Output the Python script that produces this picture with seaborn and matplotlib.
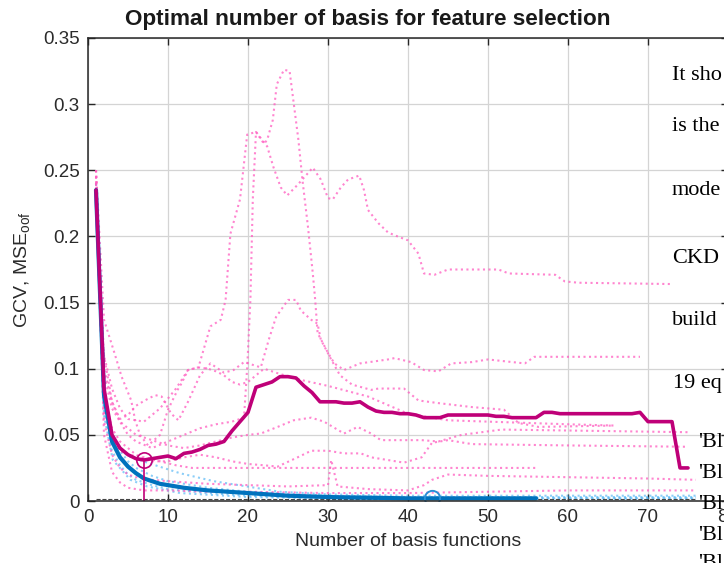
import matplotlib
matplotlib.use("Agg")
import matplotlib.pyplot as plt
import numpy as np
import pandas as pd
import seaborn as sns

# ---------------- data ----------------
# mean out-of-fold MSE (thick magenta)
mse_x = list(range(1, 76))
mse_y = [0.235, 0.085, 0.050, 0.040, 0.035, 0.032, 0.031, 0.032, 0.033, 0.034,
         0.032, 0.036, 0.037, 0.039, 0.042, 0.043, 0.045, 0.053, 0.060, 0.067,
         0.086, 0.088, 0.090, 0.094, 0.094, 0.093, 0.087, 0.082, 0.075, 0.075,
         0.075, 0.074, 0.074, 0.075, 0.071, 0.068, 0.067, 0.067, 0.066, 0.066,
         0.065, 0.063, 0.063, 0.063, 0.065, 0.065, 0.065, 0.065, 0.065, 0.065,
         0.064, 0.064, 0.063, 0.063, 0.063, 0.063, 0.067, 0.067, 0.066, 0.066,
         0.066, 0.066, 0.066, 0.066, 0.066, 0.066, 0.066, 0.066, 0.067, 0.060,
         0.060, 0.060, 0.060, 0.025, 0.025]

# mean GCV (thick blue)
gcv_x = [1, 2, 3, 4, 5, 6, 7, 8, 9, 10, 12, 15, 20, 25, 30, 35, 40, 45, 50, 56]
gcv_y = [0.235, 0.080, 0.045, 0.033, 0.026, 0.021, 0.017, 0.015, 0.013, 0.012,
         0.010, 0.008, 0.006, 0.004, 0.003, 0.0025, 0.002, 0.002, 0.002, 0.002]

# per-fold out-of-fold MSE curves (pink dotted)
fold1_x = [1, 1.5, 2, 3, 4, 5, 7, 9, 11, 12.5, 13.8, 15.3, 16.6, 17.2, 17.8, 19, 19.9,
           21, 22.4, 23.2, 24.1, 24.9, 26.2, 28.1, 29.1, 30, 30.6, 31.6, 32.5, 33.9,
           34.5, 35, 36.3, 37.5, 38.7, 40, 41.3, 42, 43.3, 45, 51.3, 52.6, 58.4,
           59.6, 61.3, 73]
fold1_y = [0.25, 0.16, 0.11, 0.085, 0.07, 0.062, 0.06, 0.07, 0.085, 0.099, 0.101,
           0.132, 0.137, 0.152, 0.202, 0.228, 0.277, 0.279, 0.268, 0.252, 0.237,
           0.231, 0.239, 0.252, 0.243, 0.229, 0.228, 0.237, 0.243, 0.246, 0.235,
           0.22, 0.21, 0.203, 0.2, 0.197, 0.187, 0.172, 0.171, 0.175, 0.175, 0.172,
           0.171, 0.166, 0.165, 0.164]
fold2_x = [1, 1.5, 2, 3, 4, 5, 6, 8, 10, 12, 14, 16, 18, 19.5, 19.9, 20.3, 20.6, 21,
           22, 22.4, 23.1, 23.6, 24.5, 25.2, 26.3, 26.8, 27.5, 28.1, 28.4, 28.7, 30,
           30.8, 32, 34, 37.5, 38.3, 40.4, 42, 43.8, 45.4, 48, 50, 54.6, 55.8, 69]
fold2_y = [0.245, 0.15, 0.10, 0.075, 0.06, 0.05, 0.045, 0.04, 0.045, 0.05, 0.055,
           0.058, 0.06, 0.063, 0.101, 0.152, 0.228, 0.279, 0.27, 0.273, 0.288,
           0.315, 0.326, 0.325, 0.273, 0.243, 0.207, 0.172, 0.152, 0.127, 0.112,
           0.104, 0.099, 0.104, 0.107, 0.108, 0.105, 0.099, 0.098, 0.104, 0.105,
           0.107, 0.104, 0.109, 0.109]
fold3_x = [1, 2, 3, 4, 5, 6, 7.1, 8.4, 9.2, 10.4, 11.3, 12.5, 14, 15.3, 17, 18.2,
           19.5, 21.6, 22.6, 23.5, 25, 26, 26.6, 27.9, 28.7, 29.1, 30.4, 31.5, 33,
           35.4, 36.3, 39.5, 41.3, 43.8, 48, 52, 53.8, 56.3, 65.5]
fold3_y = [0.24, 0.11, 0.075, 0.062, 0.065, 0.072, 0.076, 0.080, 0.079, 0.066,
           0.061, 0.075, 0.095, 0.104, 0.097, 0.099, 0.105, 0.101, 0.122, 0.139,
           0.152, 0.152, 0.144, 0.137, 0.134, 0.122, 0.107, 0.095, 0.088, 0.084,
           0.085, 0.085, 0.076, 0.074, 0.071, 0.069, 0.059, 0.056, 0.057]
fold4_x = [1, 2, 3, 4, 5, 6, 8, 10, 12, 14, 16, 18, 20, 21.6, 23.7, 25.7, 27.9,
           29.5, 32, 33.7, 35.4, 36.6, 41.7, 43.8, 46.7, 51.7, 75]
fold4_y = [0.24, 0.095, 0.07, 0.06, 0.055, 0.05, 0.046, 0.042, 0.04, 0.042, 0.045,
           0.048, 0.05, 0.051, 0.056, 0.061, 0.063, 0.060, 0.051, 0.056, 0.051,
           0.046, 0.046, 0.045, 0.050, 0.054, 0.052]
fold5_x = [1, 2, 3, 4, 5, 6, 7, 8, 10, 12, 14, 16, 18, 20, 22, 23.7, 26.2, 27.9,
           30, 32, 34.1, 35.4, 39.5, 41.7, 43, 45, 48, 60, 75]
fold5_y = [0.235, 0.08, 0.055, 0.045, 0.04, 0.035, 0.032, 0.03, 0.03, 0.033, 0.035,
           0.033, 0.03, 0.028, 0.027, 0.026, 0.033, 0.038, 0.038, 0.036, 0.036,
           0.033, 0.029, 0.033, 0.044, 0.046, 0.043, 0.042, 0.041]
fold6_x = [1, 2, 3, 4, 5, 7, 9, 11, 13, 56]
fold6_y = [0.23, 0.07, 0.045, 0.038, 0.035, 0.033, 0.03, 0.027, 0.025, 0.025]
fold7_x = [1, 2, 3, 4, 5, 6, 8, 10, 15, 20, 25, 30, 30.4, 31.2, 35, 40, 42, 43, 45,
           50, 60, 70, 76]
fold7_y = [0.23, 0.06, 0.035, 0.025, 0.02, 0.018, 0.016, 0.015, 0.013, 0.012,
           0.011, 0.012, 0.031, 0.011, 0.009, 0.008, 0.012, 0.016, 0.02, 0.019,
           0.018, 0.017, 0.016]
fold8_x = [1, 2, 3, 4, 5, 7, 10, 15, 20, 30, 40, 50, 60, 70, 76]
fold8_y = [0.25, 0.05, 0.022, 0.014, 0.01, 0.008, 0.008, 0.007, 0.007, 0.006, 0.006,
           0.007, 0.008, 0.008, 0.008]
fold9_x = [1, 2, 3.3, 4.2, 5.4, 5.9, 6.5, 7.5, 9, 10, 11.2, 11.7, 12.5, 13.8, 15, 16,
           17, 18, 19, 20, 21, 22, 24, 27, 30, 35, 40, 45, 50, 60, 66]
fold9_y = [0.25, 0.137, 0.112, 0.094, 0.076, 0.061, 0.05, 0.042, 0.05, 0.069, 0.084,
           0.089, 0.099, 0.101, 0.10, 0.098, 0.095, 0.09, 0.088, 0.09, 0.095, 0.10,
           0.096, 0.091, 0.087, 0.079, 0.066, 0.061, 0.06, 0.058, 0.057]
fold_xs = [fold1_x, fold2_x, fold3_x, fold4_x, fold5_x, fold6_x, fold7_x, fold8_x, fold9_x]
fold_ys = [fold1_y, fold2_y, fold3_y, fold4_y, fold5_y, fold6_y, fold7_y, fold8_y, fold9_y]

# per-fold GCV curves (light blue dotted)
gfold1_x = [1, 2, 3.2, 5, 7.4, 11.5, 15.7, 24, 30, 40, 50, 60, 70, 76]
gfold1_y = [0.24, 0.075, 0.044, 0.034, 0.029, 0.021, 0.015, 0.007, 0.005, 0.004,
            0.004, 0.004, 0.004, 0.004]
gfold2_x = [1, 2, 3.1, 5.3, 7.4, 11.5, 20, 30, 45, 60, 76]
gfold2_y = [0.24, 0.065, 0.031, 0.016, 0.011, 0.006, 0.003, 0.002, 0.002, 0.002, 0.002]
gfold3_x = [1, 2, 3, 4, 5, 6, 8, 10, 15, 20, 30, 40, 56, 70, 76]
gfold3_y = [0.235, 0.085, 0.05, 0.038, 0.03, 0.025, 0.019, 0.015, 0.01, 0.007, 0.004,
            0.003, 0.003, 0.003, 0.003]
gfold4_x = [1, 2, 3, 4, 5, 6, 8, 10, 15, 20, 30, 40, 60, 76]
gfold4_y = [0.235, 0.07, 0.038, 0.027, 0.02, 0.016, 0.012, 0.009, 0.006, 0.004,
            0.002, 0.002, 0.002, 0.002]
gfold_xs = [gfold1_x, gfold2_x, gfold3_x, gfold4_x]
gfold_ys = [gfold1_y, gfold2_y, gfold3_y, gfold4_y]

# baseline (dark dashed) and selected optima
base_x = [1, 76]
base_y = [0.0012, 0.0012]
best_mse_x, best_mse_y = 7, 0.031
best_gcv_x, best_gcv_y = 43, 0.002

x_ticks = [0, 10, 20, 30, 40, 50, 60, 70, 80]
y_ticks = [0, 0.05, 0.1, 0.15, 0.2, 0.25, 0.3, 0.35]
y_tick_labels = ['0', '0.05', '0.1', '0.15', '0.2', '0.25', '0.3', '0.35']

title = "Optimal number of basis for feature selection"
xlabel = "Number of basis functions"
ylabel = r"GCV, MSE$_{\mathregular{oof}}$"

# overlaid page text on the right (as much as is visible)
side_lines = ["It sho", "is the", "mode", "CKD", "build", "19 eq",
              "'Bl", "'Bl", "'Bl", "'Bl", "'Bl"]

# ---------------- drawing ----------------
sns.set_theme(style="white")
plt.rcParams['font.family'] = ['Liberation Sans', 'DejaVu Sans']
plt.rcParams['mathtext.fontset'] = 'custom'
plt.rcParams['mathtext.rm'] = 'Liberation Sans'

W, H = 724, 563
fig = plt.figure(figsize=(W / 100, H / 100), dpi=100)
ax = fig.add_axes([88 / W, 62 / H, 640 / W, 463 / H])

MAG = '#bf0078'
BLUE = '#0072bd'
PINK = '#ff5cc0'
LBLUE = '#4fb4f5'

for xs, ys in zip(gfold_xs, gfold_ys):
    sns.lineplot(x=xs, y=ys, ax=ax, color=LBLUE, linestyle=':', linewidth=1.5,
                 alpha=0.65, estimator=None, sort=False, legend=False)
for xs, ys in zip(fold_xs, fold_ys):
    sns.lineplot(x=xs, y=ys, ax=ax, color=PINK, linestyle=':', linewidth=1.5,
                 alpha=0.75, estimator=None, sort=False, legend=False)

sns.lineplot(x=base_x, y=base_y, ax=ax, color='#444444', linestyle='--',
             linewidth=0.8, estimator=None, sort=False, legend=False)

sns.lineplot(x=gcv_x, y=gcv_y, ax=ax, color=BLUE, linewidth=3.0,
             estimator=None, sort=False, legend=False)
sns.lineplot(x=mse_x, y=mse_y, ax=ax, color=MAG, linewidth=2.6,
             estimator=None, sort=False, legend=False)

# stem and markers at optimum
sns.lineplot(x=[best_mse_x, best_mse_x], y=[0, best_mse_y], ax=ax, color=MAG,
             linewidth=1.2, estimator=None, sort=False, legend=False)
sns.lineplot(x=[best_mse_x], y=[best_mse_y], ax=ax, color=MAG, marker='o',
             markersize=11, markerfacecolor='none', markeredgecolor=MAG,
             markeredgewidth=1.2, linestyle='none', estimator=None, legend=False)
sns.lineplot(x=[best_gcv_x], y=[best_gcv_y], ax=ax, color=BLUE, marker='o',
             markersize=11, markerfacecolor='none', markeredgecolor='#2a8fd6',
             markeredgewidth=1.4, linestyle='none', estimator=None, legend=False)

ax.set_xlim(0, 80)
ax.set_ylim(0, 0.35)
ax.set_xticks(x_ticks)
ax.set_yticks(y_ticks)
ax.set_yticklabels(y_tick_labels)
ax.grid(True, color='#d4d4d4', linewidth=0.9)
ax.set_axisbelow(True)
for s in ax.spines.values():
    s.set_color('#262626')
    s.set_linewidth(1.1)
ax.tick_params(axis='both', which='both', direction='in', length=5, width=1.0,
               color='#262626', top=True, right=True, bottom=True, left=True,
               labelsize=13.5, labelcolor='#2b2b2b', pad=6)
ax.set_xlabel(xlabel, fontsize=14, color='#2b2b2b', labelpad=5)
ax.set_ylabel(ylabel, fontsize=14, color='#2b2b2b', labelpad=7)
fig.text(368 / W, 1 - 20 / H, title, ha='center', va='center', fontsize=16.2,
         fontweight='bold', color='#1a1a1a')

side_pos = [(672, 80), (672, 131), (672, 195), (672, 263), (672, 325), (673, 388),
            (698, 447), (698, 478), (698, 509), (698, 540), (698, 568)]
for txt, (px, py) in zip(side_lines, side_pos):
    fig.text(px / W, 1 - py / H, txt, ha='left', va='baseline', fontsize=16,
             family=['Liberation Serif', 'DejaVu Serif'], color='black')

fig.savefig("out.png", dpi=100)
